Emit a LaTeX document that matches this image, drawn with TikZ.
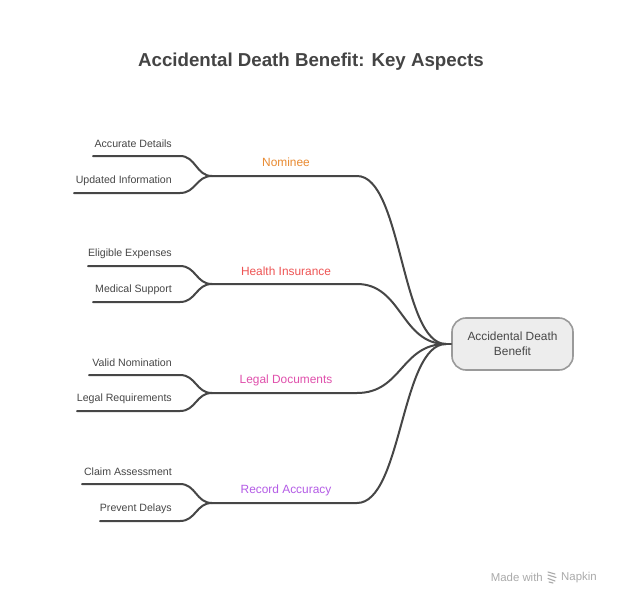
\documentclass[tikz,border=0pt]{standalone}
\usepackage{fontspec}
\setmainfont{Liberation Sans}
\usetikzlibrary{calc}
\newcommand{\leafline}[5]{%
  \coordinate (#1s) at (#2,#3);
  \coordinate (#1e) at (180,#3);
  \node[leaf] (#1t) at (172,#3-12.5) {#4};
  \draw[conn] (#1s) -- (#1e) .. controls ($(#1e)+(16,0)$) and ($(#5)+(-16,0)$) .. (#5);
}
\begin{document}
\begin{tikzpicture}[x=1pt,y=-1pt,
  conn/.style={draw=linegray,line width=2pt,line cap=round},
  leaf/.style={font=\fontsize{10.6}{12}\selectfont,text=textgray,anchor=east,inner sep=0pt},
  branch/.style={font=\fontsize{11.9}{14}\selectfont,anchor=center,inner sep=0pt},
  wm/.style={font=\fontsize{11.4}{13}\selectfont,text=napgray,inner sep=0pt}]
\definecolor{linegray}{HTML}{464646}
\definecolor{textgray}{HTML}{474747}
\definecolor{titlegray}{HTML}{444444}
\definecolor{cnom}{HTML}{E98A30}
\definecolor{chealth}{HTML}{EE5454}
\definecolor{clegal}{HTML}{E050AC}
\definecolor{crecord}{HTML}{B45CE6}
\definecolor{boxfill}{HTML}{EDEDED}
\definecolor{boxdraw}{HTML}{9A9A9A}
\definecolor{napgray}{HTML}{AAAAAA}
\useasboundingbox[fill=white] (0,0) rectangle (622,605);

\node[font=\bfseries\fontsize{18.7}{22}\selectfont,text=titlegray] (title) at (311,61.5) {Accidental Death Benefit: Key Aspects};

% center
\node[draw=boxdraw,line width=1.6pt,fill=boxfill,rounded corners=14pt,minimum width=121pt,minimum height=52pt,align=center,font=\fontsize{11.9}{15}\selectfont,text=textgray] (center) at (512.5,344) {Accidental Death\\Benefit};
\coordinate (hub) at (446,344);
\draw[conn] (hub) -- (center.west);

% branch junction coordinates
\foreach \n/\y in {nom/176,hea/284,leg/393,rec/503}{
  \coordinate (\n J) at (212,\y);
  \coordinate (\n E) at (357,\y);
}
\node[branch,text=cnom] (nomL) at (286,162.5) {Nominee};
\node[branch,text=chealth] (heaL) at (286,271.5) {Health Insurance};
\node[branch,text=clegal] (legL) at (286,380.5) {Legal Documents};
\node[branch,text=crecord] (recL) at (286,490) {Record Accuracy};

\foreach \n in {nom,hea,leg,rec}{
  \draw[conn] (\n J) -- (\n E) .. controls ($(\n E)+(45,0)$) and ($(hub)+(-45,0)$) .. (hub);
}

% leaves
\leafline{a}{93}{156}{Accurate Details}{nomJ}
\leafline{b}{74}{193}{Updated Information}{nomJ}
\leafline{c}{88}{266}{Eligible Expenses}{heaJ}
\leafline{d}{93}{302}{Medical Support}{heaJ}
\leafline{e}{89}{375}{Valid Nomination}{legJ}
\leafline{f}{77}{411}{Legal Requirements}{legJ}
\leafline{g}{82}{484}{Claim Assessment}{recJ}
\leafline{h}{100}{521}{Prevent Delays}{recJ}

% watermark
\node[wm,anchor=east] (made) at (543,577.5) {Made with};
\node[wm,anchor=west] (napkin) at (561,577.5) {Napkin};
\draw[napgray,line width=1.1pt,line cap=round] (548,572) -- (555,574) (548,575) -- (556,577.5) (548,578.5) -- (555,581) (549,582) -- (553,583);
\end{tikzpicture}
\end{document}
